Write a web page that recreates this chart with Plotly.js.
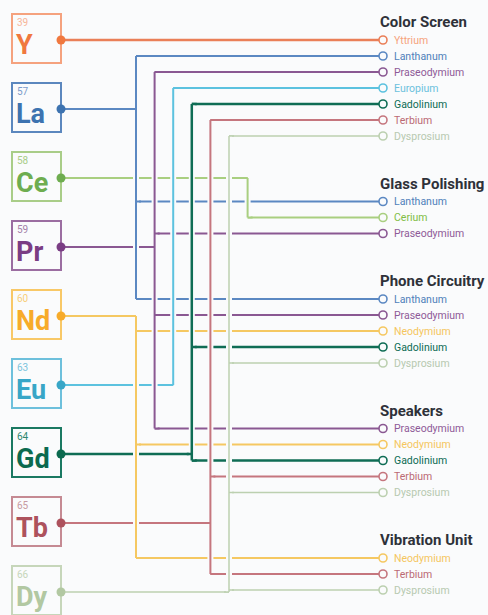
<!DOCTYPE html>
<html>
<head>
<meta charset="utf-8">
<script src="https://cdn.plot.ly/plotly-3.0.1.min.js"></script>
<style>html,body{margin:0;padding:0;background:#fafbfc;}#chart{width:488px;height:615px;}</style>
</head>
<body>
<div id="chart"></div>
<script>
// ---------------- DATA ----------------
const elements = ['Y','La','Ce','Pr','Nd','Eu','Gd','Tb','Dy'];
const atomicNumbers = [39,57,58,59,60,63,64,65,66];
const elementNames = ['Yttrium','Lanthanum','Cerium','Praseodymium','Neodymium','Europium','Gadolinium','Terbium','Dysprosium'];
const applications = ['Color Screen','Glass Polishing','Phone Circuitry','Speakers','Vibration Unit'];
const colorScreenUses = ['Y','La','Pr','Eu','Gd','Tb','Dy'];
const glassPolishingUses = ['La','Ce','Pr'];
const phoneCircuitryUses = ['La','Pr','Nd','Gd','Dy'];
const speakersUses = ['Pr','Nd','Gd','Tb','Dy'];
const vibrationUnitUses = ['Nd','Tb','Dy'];
const applicationUses = [colorScreenUses, glassPolishingUses, phoneCircuitryUses, speakersUses, vibrationUnitUses];

// ---------------- STYLE / LAYOUT ----------------
const BG = '#fafbfc';
const FONT = 'Roboto, "Liberation Sans", sans-serif';
const lineColor  = {Y:'#ea7f58', La:'#5b88c2', Ce:'#a9cf80', Pr:'#8a5892', Nd:'#f5c862', Eu:'#5cc2df', Gd:'#0f6d55', Tb:'#c5767e', Dy:'#bcd0b0'};
const lineWidth  = {Y:2.5, La:2, Ce:2, Pr:2, Nd:2, Eu:2, Gd:2.5, Tb:2, Dy:1.5};
const symColor   = {Y:'#f0783f', La:'#3d73b0', Ce:'#6ead50', Pr:'#7a3d84', Nd:'#f7ab2a', Eu:'#38a6c7', Gd:'#0b6a4f', Tb:'#ad525d', Dy:'#b2c8a2'};
const boxColor   = {Y:'#f5a27e', La:'#5b87be', Ce:'#a9cd88', Pr:'#9b6da1', Nd:'#f8c867', Eu:'#6dc0dc', Gd:'#1a7962', Tb:'#c58a93', Dy:'#c6d6ba'};
const numColor   = {Y:'#f7b598', La:'#7c9ccb', Ce:'#a9cd88', Pr:'#a481aa', Nd:'#f8cf7a', Eu:'#7cc4dc', Gd:'#2f8670', Tb:'#c79aa1', Dy:'#c6d6ba'};
const labelColor = {Y:'#f6a37d', La:'#4f7fba', Ce:'#80bd45', Pr:'#8e5a98', Nd:'#f5c65e', Eu:'#6cc1dd', Gd:'#0d6b54', Tb:'#bb6a74', Dy:'#b7c9b0'};
const routeColumn = {Y:null, La:0, Nd:0, Pr:1, Eu:2, Gd:3, Tb:4, Dy:5, Ce:6};

const BOX_L = 12, BOX_R = 61, END_X = 383;
const colX = c => 136 + c * 18.6;
const dotY = i => 40 + 69 * i;

// rows of the right-hand list
const rows = []; // {app, el, y}
const titles = [];
let first = 40;
applications.forEach((app, gi) => {
  titles.push({text: app, y: first - 18});
  applicationUses[gi].forEach((el, k) => rows.push({app: gi, el: el, y: first + k * 16}));
  first = first + (applicationUses[gi].length - 1) * 16 + 65.5;
});

const traces = [];
const horiz = {}, vert = {}, stubs = {};
elements.forEach((el, i) => {
  const dy = dotY(i);
  const myRows = rows.filter(r => r.el === el);
  const c = routeColumn[el];
  const hx = [], hy = [], sx = [], sy = [];
  if (c === null) {
    myRows.forEach(r => { hx.push(BOX_R, END_X, null); hy.push(r.y, r.y, null); });
    horiz[el] = {x: hx, y: hy};
    return;
  }
  const cx = colX(c);
  hx.push(BOX_R, cx, null); hy.push(dy, dy, null);
  sx.push(cx - 5, cx, null); sy.push(dy, dy, null);
  myRows.forEach(r => {
    hx.push(cx, END_X, null); hy.push(r.y, r.y, null);
    sx.push(cx, cx + 5, null); sy.push(r.y, r.y, null);
  });
  const ys = myRows.map(r => r.y).concat([dy]);
  horiz[el] = {x: hx, y: hy};
  vert[el] = {x: [cx, cx], y: [Math.min(...ys), Math.max(...ys)]};
  stubs[el] = {x: sx, y: sy};
});

const drawOrder = ['Y','Ce','La','Nd','Pr','Eu','Gd','Tb','Dy'];
drawOrder.forEach(el => {
  traces.push({type:'scatter', mode:'lines', x: horiz[el].x, y: horiz[el].y,
    line:{color: lineColor[el], width: lineWidth[el]}, hoverinfo:'skip', showlegend:false});
});
drawOrder.forEach(el => {
  if (!vert[el]) return;
  traces.push({type:'scatter', mode:'lines', x: vert[el].x, y: vert[el].y,
    line:{color: BG, width: 6}, hoverinfo:'skip', showlegend:false});
  traces.push({type:'scatter', mode:'lines', x: vert[el].x, y: vert[el].y,
    line:{color: lineColor[el], width: lineWidth[el]}, hoverinfo:'skip', showlegend:false});
  traces.push({type:'scatter', mode:'lines', x: stubs[el].x, y: stubs[el].y,
    line:{color: lineColor[el], width: lineWidth[el]}, hoverinfo:'skip', showlegend:false});
});
// element dots
traces.push({type:'scatter', mode:'markers', x: elements.map(() => BOX_R), y: elements.map((e, i) => dotY(i)),
  marker:{size: 9, color: elements.map(e => symColor[e]), line:{width:0}}, hoverinfo:'skip', showlegend:false});
// end circles
traces.push({type:'scatter', mode:'markers', x: rows.map(() => END_X), y: rows.map(r => r.y),
  marker:{size: 8, color: BG, line:{width: 1.6, color: rows.map(r => lineColor[r.el])}}, hoverinfo:'skip', showlegend:false});

const shapes = [];
const annotations = [];
elements.forEach((el, i) => {
  const top = dotY(i) - 26;
  shapes.push({type:'rect', xref:'x', yref:'y', x0: BOX_L, x1: BOX_R, y0: top, y1: top + 49,
    line:{color: boxColor[el], width: 2}, fillcolor: 'rgba(0,0,0,0)', layer:'below'});
  annotations.push({x: BOX_L + 3, y: top + 8, xref:'x', yref:'y', xanchor:'left', yanchor:'middle', showarrow:false,
    text: String(atomicNumbers[i]), font:{family: FONT, size: 10, color: numColor[el]}});
  annotations.push({x: BOX_L + 2, y: top + 31, xref:'x', yref:'y', xanchor:'left', yanchor:'middle', showarrow:false,
    text: '<b>' + el + '</b>', font:{family: FONT, size: 27, color: symColor[el]}});
});
titles.forEach(t => annotations.push({x: 378, y: t.y, xref:'x', yref:'y', xanchor:'left', yanchor:'middle', showarrow:false,
  text: '<b>' + t.text + '</b>', font:{family: FONT, size: 15, color: '#2e3139'}}));
rows.forEach(r => annotations.push({x: 392, y: r.y, xref:'x', yref:'y', xanchor:'left', yanchor:'middle', showarrow:false,
  text: elementNames[elements.indexOf(r.el)], font:{family: FONT, size: 10.5, color: labelColor[r.el]}}));

const layout = {
  width: 488, height: 615,
  margin:{l:0, r:0, t:0, b:0, pad:0},
  paper_bgcolor: BG, plot_bgcolor: BG,
  xaxis:{range:[0,488], visible:false, fixedrange:true},
  yaxis:{range:[615,0], visible:false, fixedrange:true},
  showlegend:false, hovermode:false,
  shapes: shapes, annotations: annotations
};
Plotly.newPlot('chart', traces, layout, {staticPlot:true, displayModeBar:false});
</script>
</body>
</html>
